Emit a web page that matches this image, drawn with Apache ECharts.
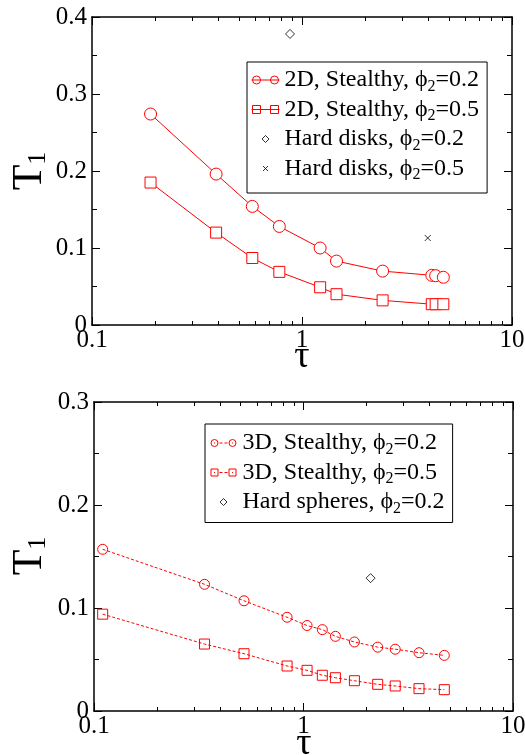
<!DOCTYPE html>
<html>
<head>
<meta charset="utf-8">
<script src="https://cdn.jsdelivr.net/npm/echarts@6/dist/echarts.min.js"></script>
<style>
  html, body { margin: 0; padding: 0; background: #fff; }
  #chart { width: 525px; height: 755px; }
</style>
</head>
<body>
<div id="chart"></div>
<script>
// ---- 2D panel: first-passage time T1 versus tau ----
const tau2D = [0.19, 0.39, 0.58, 0.78, 1.22, 1.46, 2.42, 4.15, 4.33, 4.71];
const t1Stealthy2D_02 = [0.274, 0.196, 0.154, 0.128, 0.100, 0.083, 0.070, 0.0645, 0.064, 0.062];
const t1Stealthy2D_05 = [0.185, 0.120, 0.087, 0.069, 0.049, 0.040, 0.032, 0.027, 0.027, 0.027];
const hardDisks02 = [[0.877, 0.378]];
const hardDisks05 = [[3.97, 0.113]];

// ---- 3D panel ----
const tau3D = [0.11, 0.337, 0.52, 0.835, 1.04, 1.23, 1.42, 1.75, 2.26, 2.74, 3.56, 4.7];
const t1Stealthy3D_02 = [0.157, 0.123, 0.107, 0.091, 0.083, 0.079, 0.0725, 0.067, 0.062, 0.060, 0.0566, 0.054];
const t1Stealthy3D_05 = [0.094, 0.065, 0.0556, 0.0437, 0.0395, 0.0347, 0.0323, 0.0294, 0.0259, 0.0243, 0.0217, 0.0207];
const hardSpheres02 = [[2.09, 0.129]];

// axis ranges / tick labels
const xRange = [0.1, 10];
const xTickLabels = ['0.1', '1', '10'];
const yMax2D = 0.4;
const yMax3D = 0.3;
const yStep = 0.1;

// legend entries: [series name, text before subscript, subscript, text after]
const legend2D = [
  ['2D, Stealthy, phi2=0.2', '2D, Stealthy, \u03D5', '2', '=0.2'],
  ['2D, Stealthy, phi2=0.5', '2D, Stealthy, \u03D5', '2', '=0.5'],
  ['Hard disks, phi2=0.2', 'Hard disks, \u03D5', '2', '=0.2'],
  ['Hard disks, phi2=0.5', 'Hard disks, \u03D5', '2', '=0.5']
];
const legend3D = [
  ['3D, Stealthy, phi2=0.2', '3D, Stealthy, \u03D5', '2', '=0.2'],
  ['3D, Stealthy, phi2=0.5', '3D, Stealthy, \u03D5', '2', '=0.5'],
  ['Hard spheres, phi2=0.2', 'Hard spheres, \u03D5', '2', '=0.2']
];

const FONT = '"Liberation Serif", "DejaVu Serif", "Times New Roman", serif';
const RED = '#ff0000';

const pairs = (xs, ys) => xs.map((x, i) => [x, ys[i]]);

// minor decade ticks (2..9 in each decade) in log10 space
const minorLogTicks = [];
for (let d = -1; d < 1; d++) {
  for (let k = 2; k <= 9; k++) minorLogTicks.push(d + Math.log10(k));
}

const legendRich = {
  n: { fontFamily: FONT, fontSize: 24, lineHeight: 29, color: '#000' },
  s: { fontFamily: FONT, fontSize: 16, lineHeight: 13, verticalAlign: 'bottom', color: '#000' }
};
function legendFormatter(entries) {
  return function (name) {
    const e = entries.find(r => r[0] === name);
    return '{n|' + e[1] + '}{s|' + e[2] + '}{n|' + e[3] + '}';
  };
}

// icons drawn in a 28x12 box
const ICON_BOX = 'M0,0M28,12';
const iconCircleLine = 'path://' + ICON_BOX +
  'M0,6L28,6M1,6a4,4 0 1,0 8,0a4,4 0 1,0 -8,0M19,6a4,4 0 1,0 8,0a4,4 0 1,0 -8,0';
const iconSquareLine = 'path://' + ICON_BOX +
  'M0,6L28,6M1,2h8v8h-8zM19,2h8v8h-8z';
const iconCircleDash = 'path://' + ICON_BOX +
  'M1.5,6a3.5,3.5 0 1,0 7,0a3.5,3.5 0 1,0 -7,0M4.5,6L5.5,6M10,6L13,6M15,6L18,6' +
  'M19.5,6a3.5,3.5 0 1,0 7,0a3.5,3.5 0 1,0 -7,0M22.5,6L23.5,6';
const iconSquareDash = 'path://' + ICON_BOX +
  'M1.5,2.5h7v7h-7zM4.5,6L5.5,6M10,6L13,6M15,6L18,6M19.5,2.5h7v7h-7zM22.5,6L23.5,6';
const iconDiamond = 'path://' + ICON_BOX + 'M14,2.5L17.5,6L14,9.5L10.5,6Z';
const iconCross = 'path://' + ICON_BOX + 'M11.5,3.5L16.5,8.5M16.5,3.5L11.5,8.5';

const symDiamond = 'diamond';
const symCross = 'path://M0,0L10,10M10,0L0,10';

const redHollow = { color: 'rgba(0,0,0,0)', borderColor: RED, borderWidth: 1 };
const blackHollow = { color: 'rgba(0,0,0,0)', borderColor: '#000', borderWidth: 1 };

const axisLineStyle = { color: '#000', width: 1.5 };
const labelStyle = { fontFamily: FONT, fontSize: 25, color: '#000' };

function xAxesFor(gridIndex) {
  const base = {
    gridIndex,
    type: 'log',
    logBase: 10,
    min: xRange[0],
    max: xRange[1],
    interval: 1,
    splitLine: { show: false },
    minorTick: { show: false },
    minorSplitLine: { show: false },
    axisLine: { show: true, onZero: false, lineStyle: axisLineStyle },
    axisTick: { show: true, inside: true, length: 8, lineStyle: { color: '#000', width: 1 } }
  };
  const minorBase = {
    gridIndex,
    type: 'value',
    min: -1,
    max: 1,
    splitLine: { show: false },
    axisLine: { show: false, onZero: false },
    axisLabel: { show: false },
    axisTick: { show: true, inside: true, length: 4, customValues: minorLogTicks, lineStyle: { color: '#000', width: 1 } }
  };
  return [
    Object.assign({}, base, {
      position: 'bottom',
      axisLabel: Object.assign({ show: true, margin: 3, lineHeight: 24,
        formatter: v => xTickLabels.find(t => Math.abs(parseFloat(t) - v) < 1e-9) || '' }, labelStyle)
    }),
    Object.assign({}, base, { position: 'top', axisLabel: { show: false } }),
    Object.assign({}, minorBase, { position: 'bottom' }),
    Object.assign({}, minorBase, { position: 'top' })
  ];
}

function yAxesFor(gridIndex, max) {
  const base = {
    gridIndex,
    type: 'value',
    min: 0,
    max,
    interval: yStep,
    splitLine: { show: false },
    minorSplitLine: { show: false },
    axisLine: { show: true, onZero: false, lineStyle: axisLineStyle },
    axisTick: { show: true, inside: true, length: 8, lineStyle: { color: '#000', width: 1 } },
    minorTick: { show: true, splitNumber: 2, length: 5, lineStyle: { color: '#000', width: 1 } }
  };
  return [
    Object.assign({}, base, {
      position: 'left',
      axisLabel: Object.assign({ show: true, margin: 5,
        formatter: v => String(Math.round(v * 10) / 10) }, labelStyle)
    }),
    Object.assign({}, base, { position: 'right', axisLabel: { show: false } })
  ];
}

const titleRich = {
  t: { fontFamily: FONT, fontSize: 42, color: '#000' },
  s: { fontFamily: FONT, fontSize: 26, color: '#000', verticalAlign: 'bottom', lineHeight: 30 }
};

const option = {
  animation: false,
  backgroundColor: '#fff',
  grid: [
    { left: 92, top: 17, width: 420, height: 308, containLabel: false, outerBoundsMode: 'none' },
    { left: 94, top: 402, width: 419, height: 309, containLabel: false, outerBoundsMode: 'none' }
  ],
  xAxis: xAxesFor(0).concat(xAxesFor(1)),
  yAxis: yAxesFor(0, yMax2D).concat(yAxesFor(1, yMax3D)),
  legend: [
    {
      orient: 'vertical', left: 247, top: 62,
      padding: [6, 8, 10, 4], itemGap: 3, itemWidth: 28, itemHeight: 12,
      borderColor: '#000', borderWidth: 1, backgroundColor: '#fff', borderRadius: 0,
      selectedMode: false,
      textStyle: { fontFamily: FONT, fontSize: 24, color: '#000', rich: legendRich },
      formatter: legendFormatter(legend2D),
      data: [
        { name: legend2D[0][0], icon: iconCircleLine, itemStyle: redHollow },
        { name: legend2D[1][0], icon: iconSquareLine, itemStyle: redHollow },
        { name: legend2D[2][0], icon: iconDiamond, itemStyle: blackHollow },
        { name: legend2D[3][0], icon: iconCross, itemStyle: blackHollow }
      ]
    },
    {
      orient: 'vertical', left: 205, top: 424,
      padding: [7, 8, 6, 4], itemGap: 3, itemWidth: 28, itemHeight: 12,
      borderColor: '#000', borderWidth: 1, backgroundColor: '#fff', borderRadius: 0,
      selectedMode: false,
      textStyle: { fontFamily: FONT, fontSize: 24, color: '#000', rich: legendRich },
      formatter: legendFormatter(legend3D),
      data: [
        { name: legend3D[0][0], icon: iconCircleDash, itemStyle: redHollow },
        { name: legend3D[1][0], icon: iconSquareDash, itemStyle: redHollow },
        { name: legend3D[2][0], icon: iconDiamond, itemStyle: blackHollow }
      ]
    }
  ],
  graphic: [
    { type: 'text', x: 30, y: 171, rotation: Math.PI / 2,
      style: { text: '{t|T}{s|1}', rich: titleRich, align: 'center', verticalAlign: 'middle' } },
    { type: 'text', x: 302, y: 357,
      style: { text: '\u03C4', fontFamily: FONT, fontSize: 38, fill: '#000', align: 'center', verticalAlign: 'middle' } },
    { type: 'text', x: 30, y: 556, rotation: Math.PI / 2,
      style: { text: '{t|T}{s|1}', rich: titleRich, align: 'center', verticalAlign: 'middle' } },
    { type: 'text', x: 304, y: 744,
      style: { text: '\u03C4', fontFamily: FONT, fontSize: 38, fill: '#000', align: 'center', verticalAlign: 'middle' } }
  ],
  series: [
    {
      name: legend2D[0][0], type: 'line', xAxisIndex: 0, yAxisIndex: 0,
      data: pairs(tau2D, t1Stealthy2D_02),
      symbol: 'circle', symbolSize: 12,
      lineStyle: { color: RED, width: 1 },
      itemStyle: { color: '#fff', borderColor: RED, borderWidth: 1 }
    },
    {
      name: legend2D[1][0], type: 'line', xAxisIndex: 0, yAxisIndex: 0,
      data: pairs(tau2D, t1Stealthy2D_05),
      symbol: 'rect', symbolSize: 11,
      lineStyle: { color: RED, width: 1 },
      itemStyle: { color: '#fff', borderColor: RED, borderWidth: 1 }
    },
    {
      name: legend2D[2][0], type: 'scatter', xAxisIndex: 0, yAxisIndex: 0,
      data: hardDisks02, symbol: symDiamond, symbolSize: 9,
      itemStyle: blackHollow
    },
    {
      name: legend2D[3][0], type: 'scatter', xAxisIndex: 0, yAxisIndex: 0,
      data: hardDisks05, symbol: symCross, symbolSize: 6,
      itemStyle: blackHollow
    },
    {
      name: legend3D[0][0], type: 'line', xAxisIndex: 4, yAxisIndex: 2,
      data: pairs(tau3D, t1Stealthy3D_02),
      symbol: 'circle', symbolSize: 10,
      lineStyle: { color: RED, width: 1, type: [3, 2] },
      itemStyle: redHollow
    },
    {
      name: legend3D[1][0], type: 'line', xAxisIndex: 4, yAxisIndex: 2,
      data: pairs(tau3D, t1Stealthy3D_05),
      symbol: 'rect', symbolSize: 10,
      lineStyle: { color: RED, width: 1, type: [3, 2] },
      itemStyle: redHollow
    },
    {
      name: legend3D[2][0], type: 'scatter', xAxisIndex: 4, yAxisIndex: 2,
      data: hardSpheres02, symbol: symDiamond, symbolSize: 9,
      itemStyle: blackHollow
    }
  ]
};

const chart = echarts.init(document.getElementById('chart'), null, { renderer: 'canvas' });
chart.setOption(option);
</script>
</body>
</html>
